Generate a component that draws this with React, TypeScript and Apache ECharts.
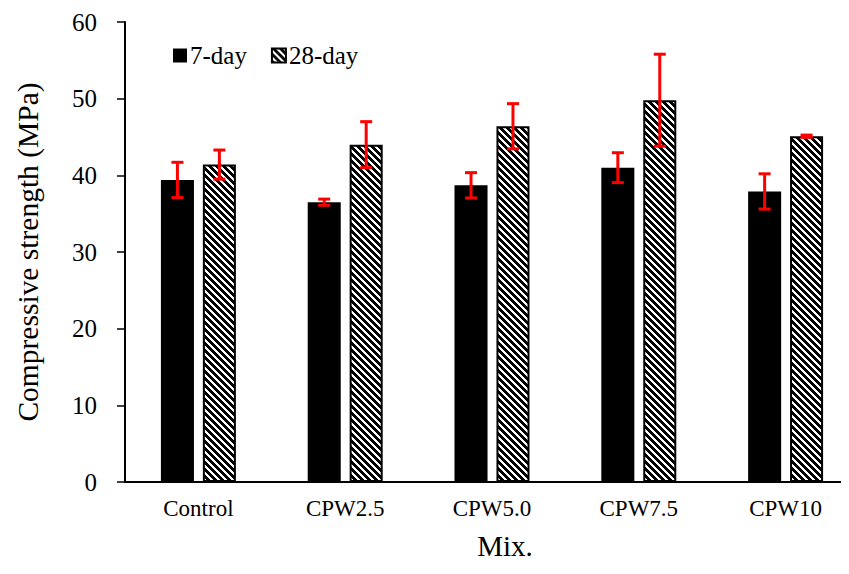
import React, { useEffect, useRef } from "react";
import * as echarts from "echarts";

const categories = ["Control", "CPW2.5", "CPW5.0", "CPW7.5", "CPW10"];
const day7 = [39.4, 36.5, 38.7, 41.0, 37.9];
const day7Err = [2.3, 0.4, 1.65, 1.95, 2.3];
const day28 = [41.4, 44.0, 46.4, 49.8, 45.1];
const day28Err = [1.9, 3.0, 2.95, 6.0, 0.15];

const FONT = "'Liberation Serif', 'Times New Roman', serif";
const BAR_W = 0.225;
const BAR_GAP = 0.27;

function makeHatch(): HTMLCanvasElement {
  const P = 7;
  const c = document.createElement("canvas");
  c.width = P;
  c.height = P;
  const ctx = c.getContext("2d")!;
  const img = ctx.createImageData(P, P);
  for (let y = 0; y < P; y++) {
    for (let x = 0; x < P; x++) {
      const k = (x - y + P * 4) % P;
      const black = k < 4;
      const i = (y * P + x) * 4;
      const v = black ? 0 : 255;
      img.data[i] = v;
      img.data[i + 1] = v;
      img.data[i + 2] = v;
      img.data[i + 3] = 255;
    }
  }
  ctx.putImageData(img, 0, 0);
  return c;
}

export default function App() {
  const ref = useRef<HTMLDivElement>(null);
  useEffect(() => {
    if (!ref.current) return;
    const chart = echarts.init(ref.current, undefined, { renderer: "svg" });
    const hatch = makeHatch();
    const pattern: any = { image: hatch, repeat: "repeat", imageWidth: 7, imageHeight: 7 };

    const errRender = (sign: number) => (params: any, api: any) => {
      const cat = api.value(0);
      const lo = api.value(1);
      const hi = api.value(2);
      const band = api.size([1, 0])[0];
      const off = (sign * band * BAR_W * (1 + BAR_GAP)) / 2;
      const pLo = api.coord([cat, lo]);
      const pHi = api.coord([cat, hi]);
      const x = pLo[0] + off;
      const half = 6;
      const style = { stroke: "#ff0000", lineWidth: 3 };
      return {
        type: "group",
        children: [
          { type: "line", shape: { x1: x, y1: pLo[1], x2: x, y2: pHi[1] }, style },
          { type: "line", shape: { x1: x - half, y1: pLo[1], x2: x + half, y2: pLo[1] }, style },
          { type: "line", shape: { x1: x - half, y1: pHi[1], x2: x + half, y2: pHi[1] }, style },
        ],
      };
    };

    const err7 = categories.map((_, i) => [i, day7[i] - day7Err[i], day7[i] + day7Err[i]]);
    const err28 = categories.map((_, i) => [i, day28[i] - day28Err[i], day28[i] + day28Err[i]]);

    chart.setOption({
      animation: false,
      textStyle: { fontFamily: FONT, color: "#000" },
      grid: { left: 125, right: -10, top: 22, bottom: 92, containLabel: false, outerBoundsMode: "none" },
      legend: {
        data: ["7-day", "28-day"],
        icon: "rect",
        left: 168,
        top: 38,
        itemWidth: 14,
        itemHeight: 14,
        itemGap: 24,
        textStyle: { fontFamily: FONT, fontSize: 25, color: "#000", padding: [0, 0, 0, -2] },
      },
      xAxis: {
        type: "category",
        data: categories,
        axisLine: { lineStyle: { color: "#000", width: 2 } },
        axisTick: { show: false },
        axisLabel: { fontFamily: FONT, fontSize: 23, color: "#000", margin: 15 },
        name: "Mix.",
        nameLocation: "middle",
        nameGap: 49,
        nameTextStyle: { fontFamily: FONT, fontSize: 29, color: "#000", padding: [0, 0, 0, 26] },
      },
      yAxis: {
        type: "value",
        min: 0,
        max: 60,
        interval: 10,
        splitLine: { show: false },
        axisLine: { show: true, lineStyle: { color: "#000", width: 2 } },
        axisTick: { show: true, inside: false, length: 8, lineStyle: { color: "#000", width: 1.5 } },
        axisLabel: { fontFamily: FONT, fontSize: 25, color: "#000", margin: 28 },
        name: "Compressive strength (MPa)",
        nameLocation: "middle",
        nameGap: 82,
        nameTextStyle: { fontFamily: FONT, fontSize: 29.5, color: "#000" },
      },
      series: [
        {
          name: "7-day",
          type: "bar",
          data: day7,
          barWidth: BAR_W * 100 + "%",
          barGap: BAR_GAP * 100 + "%",
          itemStyle: { color: "#000" },
        },
        {
          name: "28-day",
          type: "bar",
          data: day28,
          barWidth: BAR_W * 100 + "%",
          barGap: BAR_GAP * 100 + "%",
          itemStyle: { color: pattern, borderColor: "#000", borderWidth: 2 },
        },
        {
          type: "custom",
          name: "err7",
          data: err7,
          encode: { x: 0, y: [1, 2] },
          renderItem: errRender(-1),
          z: 10,
        },
        {
          type: "custom",
          name: "err28",
          data: err28,
          encode: { x: 0, y: [1, 2] },
          renderItem: errRender(1),
          z: 10,
        },
      ],
    });
    return () => chart.dispose();
  }, []);
  return <div ref={ref} style={{ width: 849, height: 574, margin: -8 }} />;
}
